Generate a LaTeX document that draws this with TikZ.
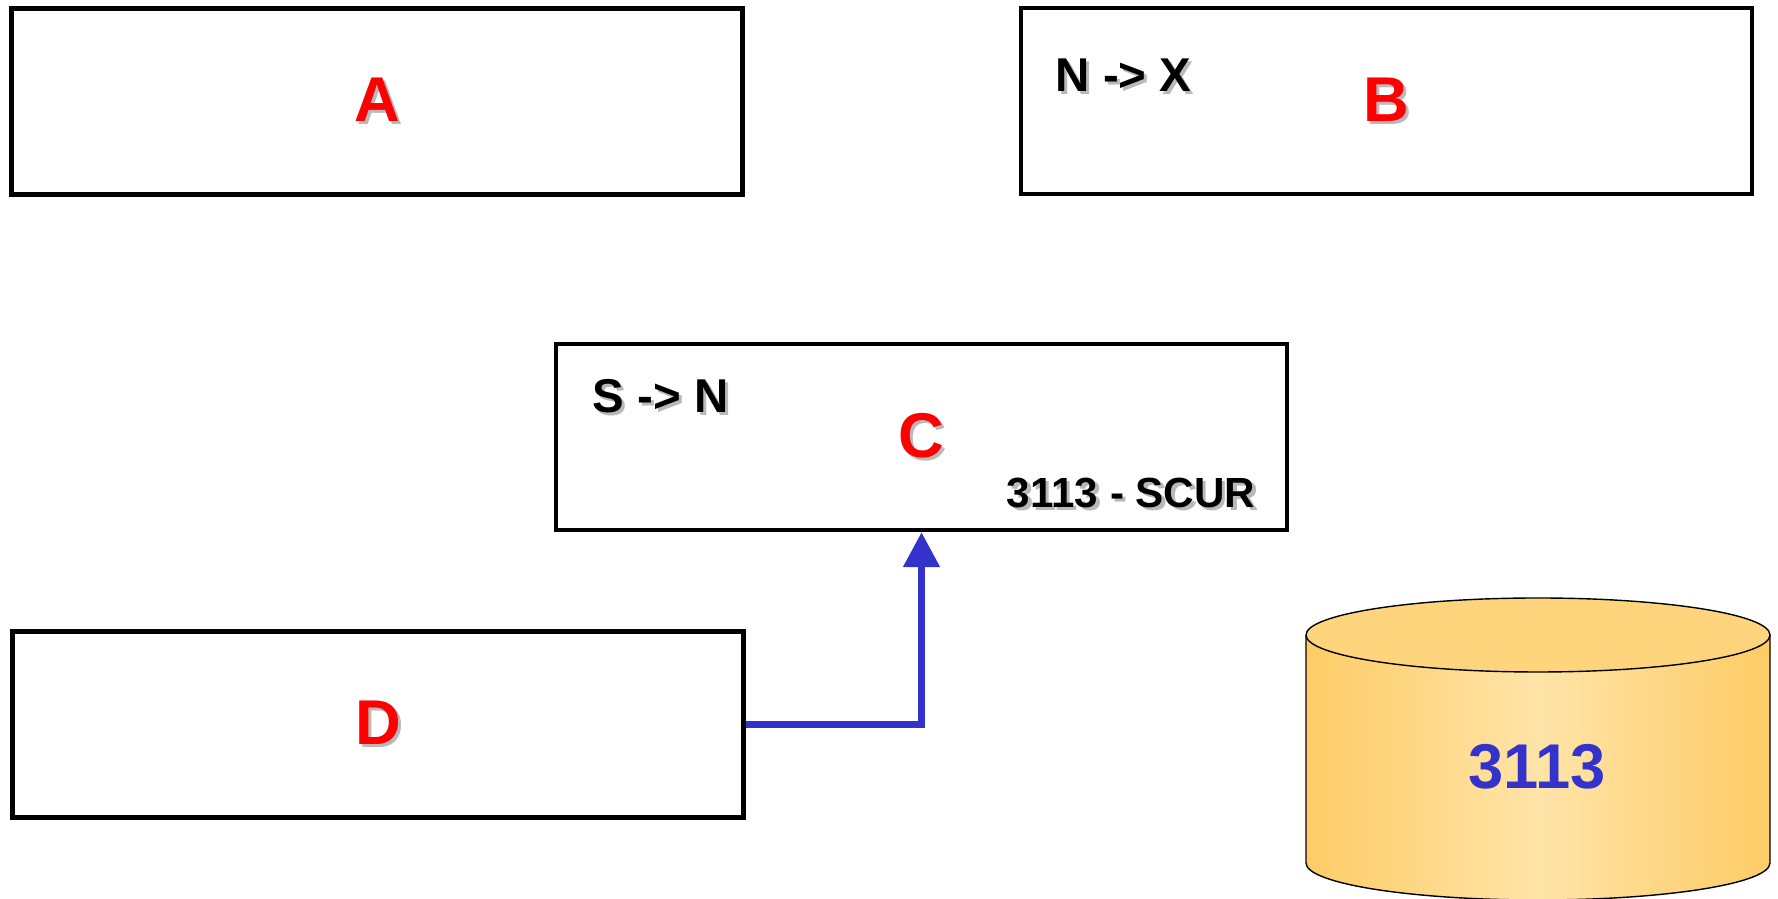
\documentclass[tikz,border=0pt]{standalone}
\usepackage{fontspec}
\setmainfont{Liberation Sans}
\usepackage{tikz}
\usetikzlibrary{arrows.meta, positioning, calc}
\usepackage{xcolor}
\definecolor{flowblue}{RGB}{51,51,204}
\definecolor{shadowgray}{RGB}{185,185,185}
\definecolor{dbgold}{RGB}{254,204,102}
\definecolor{dbtop}{RGB}{254,213,124}
\definecolor{dblight}{RGB}{255,228,168}
\newcommand{\shadowed}[1]{\makebox[0pt][l]{\hspace{0.9pt}\raisebox{-0.9pt}{\color{shadowgray}#1}}#1}

\begin{document}
\begin{tikzpicture}[
  box/.style={draw, line width=1.2pt, minimum width=7.31cm, minimum height=1.86cm,
    inner sep=0pt, text=red, font=\fontsize{18}{20}\selectfont\bfseries},
  subtxt/.style={inner sep=0pt, font=\fontsize{13.5}{15}\selectfont\bfseries},
  codetxt/.style={inner sep=0pt, font=\fontsize{12}{14}\selectfont\bfseries},
  flow/.style={flowblue, line width=2.2pt, -{Triangle[length=0.35cm, width=0.35cm]}}
]
  \useasboundingbox (0,0) rectangle (17.78,-8.99);
  % Top boxes
  \node[box] (a) at (3.77,-1.015) {\shadowed{A}};
  \node[box] (b) at (13.865,-1.01) {\shadowed{B}};
  \node[subtxt, anchor=west] (bnx) at ([xshift=0.36cm, yshift=-0.71cm]b.north west) {\shadowed{N -> X}};
  % Middle box
  \node[box] (c) at (9.215,-4.37) {\shadowed{C}};
  \node[subtxt, anchor=west] (csn) at ([xshift=0.38cm, yshift=-0.56cm]c.north west) {\shadowed{S -> N}};
  \node[codetxt, anchor=east] (cscur) at ([xshift=-0.33cm, yshift=0.38cm]c.south east) {\shadowed{3113 - SCUR}};
  % Bottom box
  \node[box] (d) at (3.78,-7.245) {\shadowed{D}};
  \draw[flow] (d.east) -| (c.south);
  % Database cylinder
  \shade[left color=dbgold, right color=dbgold, middle color=dblight, shading angle=90]
    (13.06,-6.35) -- (13.06,-8.63) arc[start angle=180, end angle=360, x radius=2.32, y radius=0.37]
    -- (17.70,-6.35) arc[start angle=0, end angle=-180, x radius=2.32, y radius=0.37] -- cycle;
  \draw[line width=0.4pt] (13.06,-6.35) -- (13.06,-8.63)
    arc[start angle=180, end angle=360, x radius=2.32, y radius=0.37] -- (17.70,-6.35);
  \draw[line width=0.4pt, fill=dbtop] (15.38,-6.35) ellipse (2.32 and 0.37);
  \node[text=flowblue, font=\fontsize{18}{20}\selectfont\bfseries] (db) at (15.37,-7.67) {3113};
\end{tikzpicture}
\end{document}
